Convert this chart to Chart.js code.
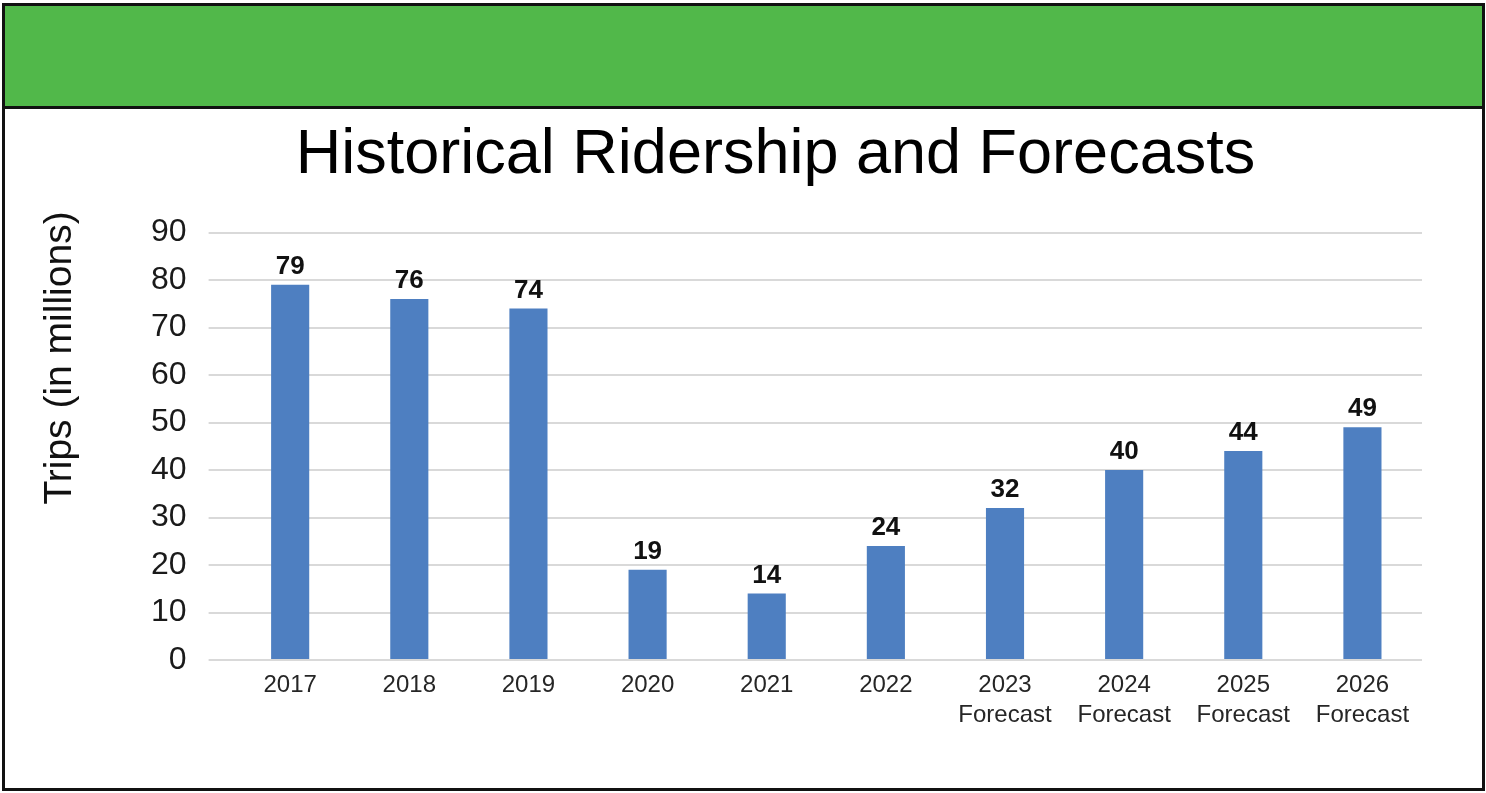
<!DOCTYPE html>
<html>
<head>
<meta charset="utf-8">
<script src="https://cdn.jsdelivr.net/npm/chart.js@4/dist/chart.umd.min.js"></script>
<style>
  html, body { margin: 0; padding: 0; background: #fff; }
  body { width: 1486px; height: 793px; position: relative; overflow: hidden; }
  #frame { position: absolute; left: 2px; top: 3px; width: 1477px; height: 782px; border: 3px solid #111; pointer-events: none; z-index: 2; }
  #band { position: absolute; left: 5px; top: 6px; width: 1477px; height: 100px; background: #51b84a; border-bottom: 3px solid #111; z-index: 1; }
  #wrap { position: absolute; left: 0; top: 0; width: 1486px; height: 793px; }
</style>
</head>
<body>
<div id="band"></div>
<div id="frame"></div>
<div id="wrap"><canvas id="c" width="1486" height="793"></canvas></div>
<script>
const categories = [
  ['2017'], ['2018'], ['2019'], ['2020'], ['2021'], ['2022'],
  ['2023', 'Forecast'], ['2024', 'Forecast'], ['2025', 'Forecast'], ['2026', 'Forecast']
];
const trips = [79, 76, 74, 19, 14, 24, 32, 40, 44, 49];
const yTicks = [0, 10, 20, 30, 40, 50, 60, 70, 80, 90];
const chartTitle = 'Historical Ridership and Forecasts';
const yAxisTitle = 'Trips (in millions)';

const FONT = "'Liberation Sans', Arial, Helvetica, sans-serif";

const valueLabels = {
  id: 'valueLabels',
  afterDatasetsDraw(chart) {
    const ctx = chart.ctx;
    const meta = chart.getDatasetMeta(0);
    ctx.save();
    ctx.font = 'bold 26px ' + FONT;
    ctx.fillStyle = '#111';
    ctx.textAlign = 'center';
    ctx.textBaseline = 'alphabetic';
    meta.data.forEach((bar, i) => {
      ctx.fillText(String(trips[i]), bar.x, bar.y - 11);
    });
    ctx.restore();
  }
};

const yTitle = {
  id: 'yTitle',
  afterDraw(chart) {
    const ctx = chart.ctx;
    ctx.save();
    ctx.translate(60, 358);
    ctx.rotate(-Math.PI / 2);
    ctx.font = '39px ' + FONT;
    ctx.fillStyle = '#111';
    ctx.textAlign = 'center';
    ctx.textBaseline = 'middle';
    ctx.fillText(yAxisTitle, 0, 0);
    ctx.restore();
  }
};

new Chart(document.getElementById('c'), {
  type: 'bar',
  data: {
    labels: categories,
    datasets: [{
      data: trips,
      backgroundColor: '#4e7fc1',
      borderWidth: 0,
      barPercentage: 0.32,
      categoryPercentage: 1.0
    }]
  },
  options: {
    responsive: false,
    animation: false,
    layout: { padding: { left: 129, right: 64, top: 110, bottom: 53 } },
    plugins: {
      legend: { display: false },
      tooltip: { enabled: false },
      title: {
        display: true,
        text: chartTitle,
        color: '#000',
        font: { family: FONT, size: 63, weight: 'normal' },
        padding: { top: 8, bottom: 39 }
      }
    },
    scales: {
      x: {
        grid: { display: false, drawTicks: false },
        border: { display: false },
        ticks: {
          color: '#262626',
          font: { family: FONT, size: 24, lineHeight: 1.25 },
          padding: 10,
          maxRotation: 0,
          autoSkip: false
        }
      },
      y: {
        min: 0,
        max: 90,
        afterBuildTicks(scale) { scale.ticks = yTicks.map(v => ({ value: v })); },
        grid: { color: '#d9d9d9', lineWidth: 2, drawTicks: true, tickLength: 22, tickColor: '#d9d9d9' },
        border: { display: false },
        ticks: {
          color: '#1a1a1a',
          font: { family: FONT, size: 32 },
          padding: 22
        }
      }
    }
  },
  plugins: [valueLabels, yTitle]
});
</script>
</body>
</html>
